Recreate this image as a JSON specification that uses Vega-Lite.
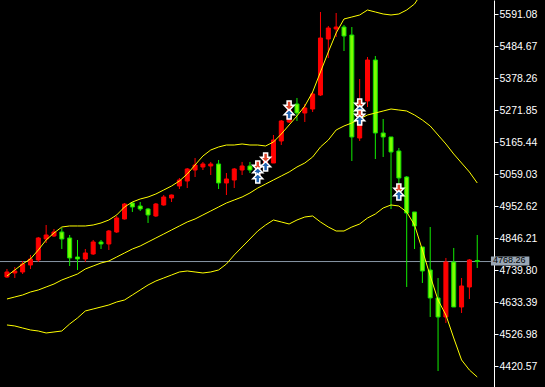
{
  "$schema": "https://vega.github.io/schema/vega-lite/v6.json",
  "width": 494,
  "height": 387,
  "autosize": {"type": "none"},
  "padding": {"left": 0, "top": 0, "right": 51, "bottom": 0},
  "background": "#000000",
  "config": {"view": {"stroke": null}},
  "datasets": {
    "candles": [
      {"i":0,"open":4716.8,"high":4743.5,"low":4713.5,"close":4733.5,"upper":4720.2,"middle":4643.6,"lower":4557.1},
      {"i":1,"open":4730.2,"high":4750.1,"low":4713.5,"close":4736.8,"upper":4740.1,"middle":4650.3,"lower":4553.8},
      {"i":2,"open":4733.5,"high":4770.1,"low":4726.8,"close":4760.1,"upper":4760.1,"middle":4656.9,"lower":4547.1},
      {"i":3,"open":4756.8,"high":4790.1,"low":4743.5,"close":4776.7,"upper":4776.8,"middle":4666.9,"lower":4540.5},
      {"i":4,"open":4773.4,"high":4850.0,"low":4766.8,"close":4846.6,"upper":4806.7,"middle":4673.6,"lower":4537.1},
      {"i":5,"open":4843.3,"high":4889.9,"low":4830.0,"close":4856.6,"upper":4840.0,"middle":4683.6,"lower":4530.5},
      {"i":6,"open":4853.3,"high":4876.6,"low":4850.0,"close":4866.6,"upper":4863.3,"middle":4693.5,"lower":4533.8},
      {"i":7,"open":4866.6,"high":4879.9,"low":4810.0,"close":4843.3,"upper":4883.2,"middle":4706.9,"lower":4537.1},
      {"i":8,"open":4846.6,"high":4856.6,"low":4753.4,"close":4780.1,"upper":4886.6,"middle":4716.8,"lower":4560.4},
      {"i":9,"open":4783.4,"high":4840.0,"low":4740.1,"close":4776.7,"upper":4886.6,"middle":4726.8,"lower":4580.4},
      {"i":10,"open":4776.7,"high":4810.0,"low":4766.8,"close":4796.7,"upper":4886.6,"middle":4743.5,"lower":4603.7},
      {"i":11,"open":4793.4,"high":4840.0,"low":4790.1,"close":4833.3,"upper":4889.9,"middle":4753.5,"lower":4610.3},
      {"i":12,"open":4833.3,"high":4840.0,"low":4810.0,"close":4826.7,"upper":4896.6,"middle":4763.4,"lower":4617.0},
      {"i":13,"open":4826.7,"high":4873.3,"low":4806.7,"close":4869.9,"upper":4906.5,"middle":4770.1,"lower":4623.7},
      {"i":14,"open":4866.6,"high":4919.9,"low":4863.3,"close":4913.2,"upper":4923.2,"middle":4783.4,"lower":4633.6},
      {"i":15,"open":4909.9,"high":4963.1,"low":4908.2,"close":4959.8,"upper":4949.8,"middle":4796.7,"lower":4640.3},
      {"i":16,"open":4963.1,"high":4966.4,"low":4933.2,"close":4949.8,"upper":4966.4,"middle":4810.0,"lower":4656.9},
      {"i":17,"open":4953.1,"high":4966.4,"low":4936.5,"close":4943.1,"upper":4976.4,"middle":4820.0,"lower":4673.6},
      {"i":18,"open":4943.1,"high":4946.5,"low":4896.6,"close":4923.2,"upper":4983.1,"middle":4833.3,"lower":4690.2},
      {"i":19,"open":4919.9,"high":4963.1,"low":4916.5,"close":4959.8,"upper":4993.1,"middle":4846.6,"lower":4703.5},
      {"i":20,"open":4956.5,"high":4989.7,"low":4954.0,"close":4983.1,"upper":5006.4,"middle":4859.9,"lower":4713.5},
      {"i":21,"open":4979.8,"high":4991.0,"low":4966.4,"close":4989.7,"upper":5019.7,"middle":4873.3,"lower":4723.5},
      {"i":22,"open":5019.7,"high":5046.3,"low":5009.7,"close":5039.6,"upper":5036.3,"middle":4886.6,"lower":4733.5},
      {"i":23,"open":5036.3,"high":5079.6,"low":5013.0,"close":5076.3,"upper":5059.6,"middle":4899.9,"lower":4736.8},
      {"i":24,"open":5072.9,"high":5112.9,"low":5049.6,"close":5089.6,"upper":5089.6,"middle":4909.9,"lower":4733.5},
      {"i":25,"open":5082.9,"high":5099.6,"low":5072.9,"close":5092.9,"upper":5119.5,"middle":4923.2,"lower":4730.2},
      {"i":26,"open":5086.3,"high":5099.6,"low":5056.3,"close":5092.9,"upper":5139.5,"middle":4936.5,"lower":4733.5},
      {"i":27,"open":5092.9,"high":5106.2,"low":5009.7,"close":5029.7,"upper":5149.5,"middle":4949.8,"lower":4740.1},
      {"i":28,"open":5029.7,"high":5062.9,"low":4989.7,"close":5043.0,"upper":5156.1,"middle":4963.1,"lower":4760.1},
      {"i":29,"open":5039.6,"high":5079.6,"low":5013.0,"close":5076.3,"upper":5156.1,"middle":4973.1,"lower":4790.1},
      {"i":30,"open":5072.9,"high":5099.6,"low":5056.3,"close":5086.3,"upper":5159.5,"middle":4983.1,"lower":4816.7},
      {"i":31,"open":5086.3,"high":5099.6,"low":5062.9,"close":5072.9,"upper":5156.1,"middle":4996.4,"lower":4843.3},
      {"i":32,"open":5052.9,"high":5096.2,"low":5039.6,"close":5079.6,"upper":5156.1,"middle":5013.0,"lower":4869.9},
      {"i":33,"open":5079.6,"high":5116.2,"low":5072.9,"close":5112.9,"upper":5152.8,"middle":5026.3,"lower":4889.9},
      {"i":34,"open":5096.2,"high":5189.4,"low":5096.2,"close":5172.8,"upper":5166.1,"middle":5039.7,"lower":4906.5},
      {"i":35,"open":5169.5,"high":5239.3,"low":5156.2,"close":5236.0,"upper":5192.7,"middle":5053.0,"lower":4899.9},
      {"i":36,"open":5232.7,"high":5295.9,"low":5229.4,"close":5272.6,"upper":5222.7,"middle":5066.3,"lower":4893.2},
      {"i":37,"open":5292.6,"high":5312.6,"low":5236.0,"close":5262.6,"upper":5252.7,"middle":5082.9,"lower":4906.5},
      {"i":38,"open":5262.6,"high":5292.6,"low":5232.7,"close":5279.3,"upper":5285.9,"middle":5096.2,"lower":4916.5},
      {"i":39,"open":5275.9,"high":5332.5,"low":5266.0,"close":5325.9,"upper":5332.5,"middle":5116.2,"lower":4919.9},
      {"i":40,"open":5322.5,"high":5598.8,"low":5319.2,"close":5512.2,"upper":5399.1,"middle":5149.5,"lower":4899.9},
      {"i":41,"open":5508.9,"high":5552.2,"low":5445.7,"close":5545.5,"upper":5465.6,"middle":5172.8,"lower":4883.2},
      {"i":42,"open":5542.2,"high":5595.4,"low":5515.6,"close":5548.8,"upper":5528.9,"middle":5206.1,"lower":4869.9},
      {"i":43,"open":5548.8,"high":5555.5,"low":5469.0,"close":5518.9,"upper":5575.5,"middle":5219.4,"lower":4869.9},
      {"i":44,"open":5522.2,"high":5548.8,"low":5102.9,"close":5182.8,"upper":5582.1,"middle":5229.4,"lower":4883.2},
      {"i":45,"open":5179.4,"high":5375.8,"low":5169.5,"close":5262.6,"upper":5588.8,"middle":5242.7,"lower":4893.2},
      {"i":46,"open":5302.6,"high":5449.0,"low":5282.6,"close":5439.0,"upper":5605.4,"middle":5256.0,"lower":4913.2},
      {"i":47,"open":5439.0,"high":5452.3,"low":5109.5,"close":5196.1,"upper":5598.8,"middle":5262.6,"lower":4926.5},
      {"i":48,"open":5196.1,"high":5242.7,"low":5116.2,"close":5182.8,"upper":5592.1,"middle":5269.3,"lower":4946.5},
      {"i":49,"open":5182.8,"high":5182.8,"low":4943.1,"close":5132.8,"upper":5588.8,"middle":5275.9,"lower":4956.5},
      {"i":50,"open":5136.2,"high":5146.2,"low":4979.8,"close":5046.3,"upper":5592.1,"middle":5272.6,"lower":4953.1},
      {"i":51,"open":5049.6,"high":5052.9,"low":4683.6,"close":4929.8,"upper":5605.4,"middle":5269.3,"lower":4933.2},
      {"i":52,"open":4933.2,"high":4933.2,"low":4810.0,"close":4886.6,"upper":5625.4,"middle":5256.0,"lower":4889.9},
      {"i":53,"open":4816.7,"high":4816.7,"low":4696.9,"close":4736.8,"upper":5665.3,"middle":5239.3,"lower":4806.7},
      {"i":54,"open":4740.1,"high":4883.2,"low":4583.7,"close":4647.0,"upper":5705.3,"middle":5219.4,"lower":4720.2},
      {"i":55,"open":4647.0,"high":4713.5,"low":4404.0,"close":4583.7,"upper":5728.6,"middle":5189.4,"lower":4640.3},
      {"i":56,"open":4583.7,"high":4780.1,"low":4563.7,"close":4766.8,"upper":5738.5,"middle":5159.5,"lower":4590.4},
      {"i":57,"open":4766.8,"high":4813.4,"low":4617.0,"close":4617.0,"upper":5741.9,"middle":5126.2,"lower":4513.8},
      {"i":58,"open":4617.0,"high":4713.5,"low":4597.0,"close":4686.9,"upper":5738.5,"middle":5096.2,"lower":4440.6},
      {"i":59,"open":4683.6,"high":4776.7,"low":4643.6,"close":4773.4,"upper":5725.2,"middle":5066.3,"lower":4407.3},
      {"i":60,"open":4771.8,"high":4856.6,"low":4746.8,"close":4768.26,"upper":5685.3,"middle":5029.7,"lower":4384.0}
    ],
    "trades": [
      {"i":32,"price":5086.3,"side":"sell"},
      {"i":32,"price":5066.3,"side":"buy"},
      {"i":32,"price":5046.3,"side":"buy"},
      {"i":33,"price":5112.9,"side":"sell"},
      {"i":33,"price":5086.3,"side":"buy"},
      {"i":36,"price":5285.9,"side":"sell"},
      {"i":36,"price":5259.3,"side":"buy"},
      {"i":45,"price":5292.6,"side":"sell"},
      {"i":45,"price":5272.6,"side":"buy"},
      {"i":45,"price":5256.0,"side":"sell"},
      {"i":45,"price":5239.3,"side":"buy"},
      {"i":50,"price":5009.7,"side":"sell"},
      {"i":50,"price":4989.7,"side":"buy"}
    ],
    "last": [{"price": 4768.26}]
  },
  "layer": [
    {
      "data": {"name": "last"},
      "mark": {"type": "rule", "color": "#8896a6", "strokeWidth": 1},
      "encoding": {
        "y": {"field": "price", "type": "quantitative", "scale": {"domain": [4350.7, 5638.7], "nice": false, "zero": false},
          "axis": {"orient": "right", "title": null, "values": [4420.57,4526.98,4633.39,4739.8,4846.21,4952.62,5059.03,5165.44,5271.85,5378.26,5484.67,5591.08], "format": ".2f", "labelColor": "#ffffff", "labelFont": "Liberation Sans", "labelFontSize": 10.5, "tickColor": "#ffffff", "tickSize": 4, "domainColor": "#ffffff", "labelPadding": 1, "grid": false, "labelOverlap": false, "labelBound": false, "labelFlush": false, "zindex": 0}}
      }
    },
    {
      "data": {"name": "candles"},
      "mark": {"type": "rule", "strokeWidth": 1},
      "encoding": {
        "x": {"field": "i", "type": "quantitative", "scale": {"domain": [-0.25, 61.5], "nice": false, "zero": false}, "axis": null},
        "y": {"field": "low", "type": "quantitative", "scale": {"domain": [4350.7, 5638.7], "nice": false, "zero": false},
          "axis": {"orient": "right", "title": null, "values": [4420.57,4526.98,4633.39,4739.8,4846.21,4952.62,5059.03,5165.44,5271.85,5378.26,5484.67,5591.08], "format": ".2f", "labelColor": "#ffffff", "labelFont": "Liberation Sans", "labelFontSize": 10.5, "tickColor": "#ffffff", "tickSize": 4, "domainColor": "#ffffff", "labelPadding": 1, "grid": false, "labelOverlap": false, "labelBound": false, "labelFlush": false, "zindex": 0}},
        "y2": {"field": "high"},
        "color": {"condition": {"test": "datum.close >= datum.open", "value": "#ff0000"}, "value": "#11ee00"}
      }
    },
    {
      "data": {"name": "candles"},
      "mark": {"type": "bar", "size": 4, "strokeWidth": 1},
      "encoding": {
        "x": {"field": "i", "type": "quantitative", "scale": {"domain": [-0.25, 61.5], "nice": false, "zero": false}, "axis": null},
        "y": {"field": "open", "type": "quantitative", "scale": {"domain": [4350.7, 5638.7], "nice": false, "zero": false},
          "axis": {"orient": "right", "title": null, "values": [4420.57,4526.98,4633.39,4739.8,4846.21,4952.62,5059.03,5165.44,5271.85,5378.26,5484.67,5591.08], "format": ".2f", "labelColor": "#ffffff", "labelFont": "Liberation Sans", "labelFontSize": 10.5, "tickColor": "#ffffff", "tickSize": 4, "domainColor": "#ffffff", "labelPadding": 1, "grid": false, "labelOverlap": false, "labelBound": false, "labelFlush": false, "zindex": 0}},
        "y2": {"field": "close"},
        "fill": {"condition": {"test": "datum.close >= datum.open", "value": "#ff0000"}, "value": "#7cfc00"},
        "stroke": {"condition": {"test": "datum.close >= datum.open", "value": "#ff0000"}, "value": "#11dd00"}
      }
    },
    {
      "data": {"name": "candles"},
      "mark": {"type": "line", "color": "#ffff00", "strokeWidth": 1, "clip": true},
      "encoding": {
        "x": {"field": "i", "type": "quantitative", "scale": {"domain": [-0.25, 61.5], "nice": false, "zero": false}, "axis": null},
        "y": {"field": "upper", "type": "quantitative", "scale": {"domain": [4350.7, 5638.7], "nice": false, "zero": false},
          "axis": {"orient": "right", "title": null, "values": [4420.57,4526.98,4633.39,4739.8,4846.21,4952.62,5059.03,5165.44,5271.85,5378.26,5484.67,5591.08], "format": ".2f", "labelColor": "#ffffff", "labelFont": "Liberation Sans", "labelFontSize": 10.5, "tickColor": "#ffffff", "tickSize": 4, "domainColor": "#ffffff", "labelPadding": 1, "grid": false, "labelOverlap": false, "labelBound": false, "labelFlush": false, "zindex": 0}}
      }
    },
    {
      "data": {"name": "candles"},
      "mark": {"type": "line", "color": "#ffff00", "strokeWidth": 1, "clip": true},
      "encoding": {
        "x": {"field": "i", "type": "quantitative", "scale": {"domain": [-0.25, 61.5], "nice": false, "zero": false}, "axis": null},
        "y": {"field": "middle", "type": "quantitative", "scale": {"domain": [4350.7, 5638.7], "nice": false, "zero": false},
          "axis": {"orient": "right", "title": null, "values": [4420.57,4526.98,4633.39,4739.8,4846.21,4952.62,5059.03,5165.44,5271.85,5378.26,5484.67,5591.08], "format": ".2f", "labelColor": "#ffffff", "labelFont": "Liberation Sans", "labelFontSize": 10.5, "tickColor": "#ffffff", "tickSize": 4, "domainColor": "#ffffff", "labelPadding": 1, "grid": false, "labelOverlap": false, "labelBound": false, "labelFlush": false, "zindex": 0}}
      }
    },
    {
      "data": {"name": "candles"},
      "mark": {"type": "line", "color": "#ffff00", "strokeWidth": 1, "clip": true},
      "encoding": {
        "x": {"field": "i", "type": "quantitative", "scale": {"domain": [-0.25, 61.5], "nice": false, "zero": false}, "axis": null},
        "y": {"field": "lower", "type": "quantitative", "scale": {"domain": [4350.7, 5638.7], "nice": false, "zero": false},
          "axis": {"orient": "right", "title": null, "values": [4420.57,4526.98,4633.39,4739.8,4846.21,4952.62,5059.03,5165.44,5271.85,5378.26,5484.67,5591.08], "format": ".2f", "labelColor": "#ffffff", "labelFont": "Liberation Sans", "labelFontSize": 10.5, "tickColor": "#ffffff", "tickSize": 4, "domainColor": "#ffffff", "labelPadding": 1, "grid": false, "labelOverlap": false, "labelBound": false, "labelFlush": false, "zindex": 0}}
      }
    },
    {
      "data": {"name": "trades"},
      "mark": {"type": "point", "filled": true, "stroke": "#ffffff", "strokeWidth": 1.5, "strokeOpacity": 1, "opacity": 1, "size": 100},
      "encoding": {
        "x": {"field": "i", "type": "quantitative", "scale": {"domain": [-0.25, 61.5], "nice": false, "zero": false}, "axis": null},
        "y": {"field": "price", "type": "quantitative", "scale": {"domain": [4350.7, 5638.7], "nice": false, "zero": false},
          "axis": {"orient": "right", "title": null, "values": [4420.57,4526.98,4633.39,4739.8,4846.21,4952.62,5059.03,5165.44,5271.85,5378.26,5484.67,5591.08], "format": ".2f", "labelColor": "#ffffff", "labelFont": "Liberation Sans", "labelFontSize": 10.5, "tickColor": "#ffffff", "tickSize": 4, "domainColor": "#ffffff", "labelPadding": 1, "grid": false, "labelOverlap": false, "labelBound": false, "labelFlush": false, "zindex": 0}},
        "shape": {"field": "side", "type": "nominal", "scale": {"domain": ["sell", "buy"], "range": ["M-0.4,-1L0.4,-1L0.4,-0.15L1,-0.15L0,0.9L-1,-0.15L-0.4,-0.15Z", "M-0.4,1L0.4,1L0.4,0.15L1,0.15L0,-0.9L-1,0.15L-0.4,0.15Z"]}, "legend": null},
        "fill": {"field": "side", "type": "nominal", "scale": {"domain": ["sell", "buy"], "range": ["#e2462c", "#1f63b0"]}, "legend": null}
      }
    },
    {
      "data": {"name": "last"},
      "mark": {"type": "rect", "color": "#9aa7b5", "clip": false},
      "encoding": {
        "x": {"datum": 61.75, "type": "quantitative", "scale": {"domain": [-0.25, 61.5], "nice": false, "zero": false}, "axis": null},
        "x2": {"datum": 66.65},
        "y": {"datum": 4785.0, "type": "quantitative", "scale": {"domain": [4350.7, 5638.7], "nice": false, "zero": false},
          "axis": {"orient": "right", "title": null, "values": [4420.57,4526.98,4633.39,4739.8,4846.21,4952.62,5059.03,5165.44,5271.85,5378.26,5484.67,5591.08], "format": ".2f", "labelColor": "#ffffff", "labelFont": "Liberation Sans", "labelFontSize": 10.5, "tickColor": "#ffffff", "tickSize": 4, "domainColor": "#ffffff", "labelPadding": 1, "grid": false, "labelOverlap": false, "labelBound": false, "labelFlush": false, "zindex": 0}},
        "y2": {"datum": 4754.8}
      }
    },
    {
      "data": {"name": "last"},
      "mark": {"type": "text", "align": "left", "baseline": "middle", "font": "Liberation Sans", "fontSize": 9, "color": "#000000", "clip": false, "dx": 2, "dy": -2},
      "encoding": {
        "x": {"datum": 61.75, "type": "quantitative", "scale": {"domain": [-0.25, 61.5], "nice": false, "zero": false}, "axis": null},
        "y": {"field": "price", "type": "quantitative", "scale": {"domain": [4350.7, 5638.7], "nice": false, "zero": false},
          "axis": {"orient": "right", "title": null, "values": [4420.57,4526.98,4633.39,4739.8,4846.21,4952.62,5059.03,5165.44,5271.85,5378.26,5484.67,5591.08], "format": ".2f", "labelColor": "#ffffff", "labelFont": "Liberation Sans", "labelFontSize": 10.5, "tickColor": "#ffffff", "tickSize": 4, "domainColor": "#ffffff", "labelPadding": 1, "grid": false, "labelOverlap": false, "labelBound": false, "labelFlush": false, "zindex": 0}},
        "text": {"field": "price", "type": "quantitative", "format": ".2f"}
      }
    }
  ]
}
